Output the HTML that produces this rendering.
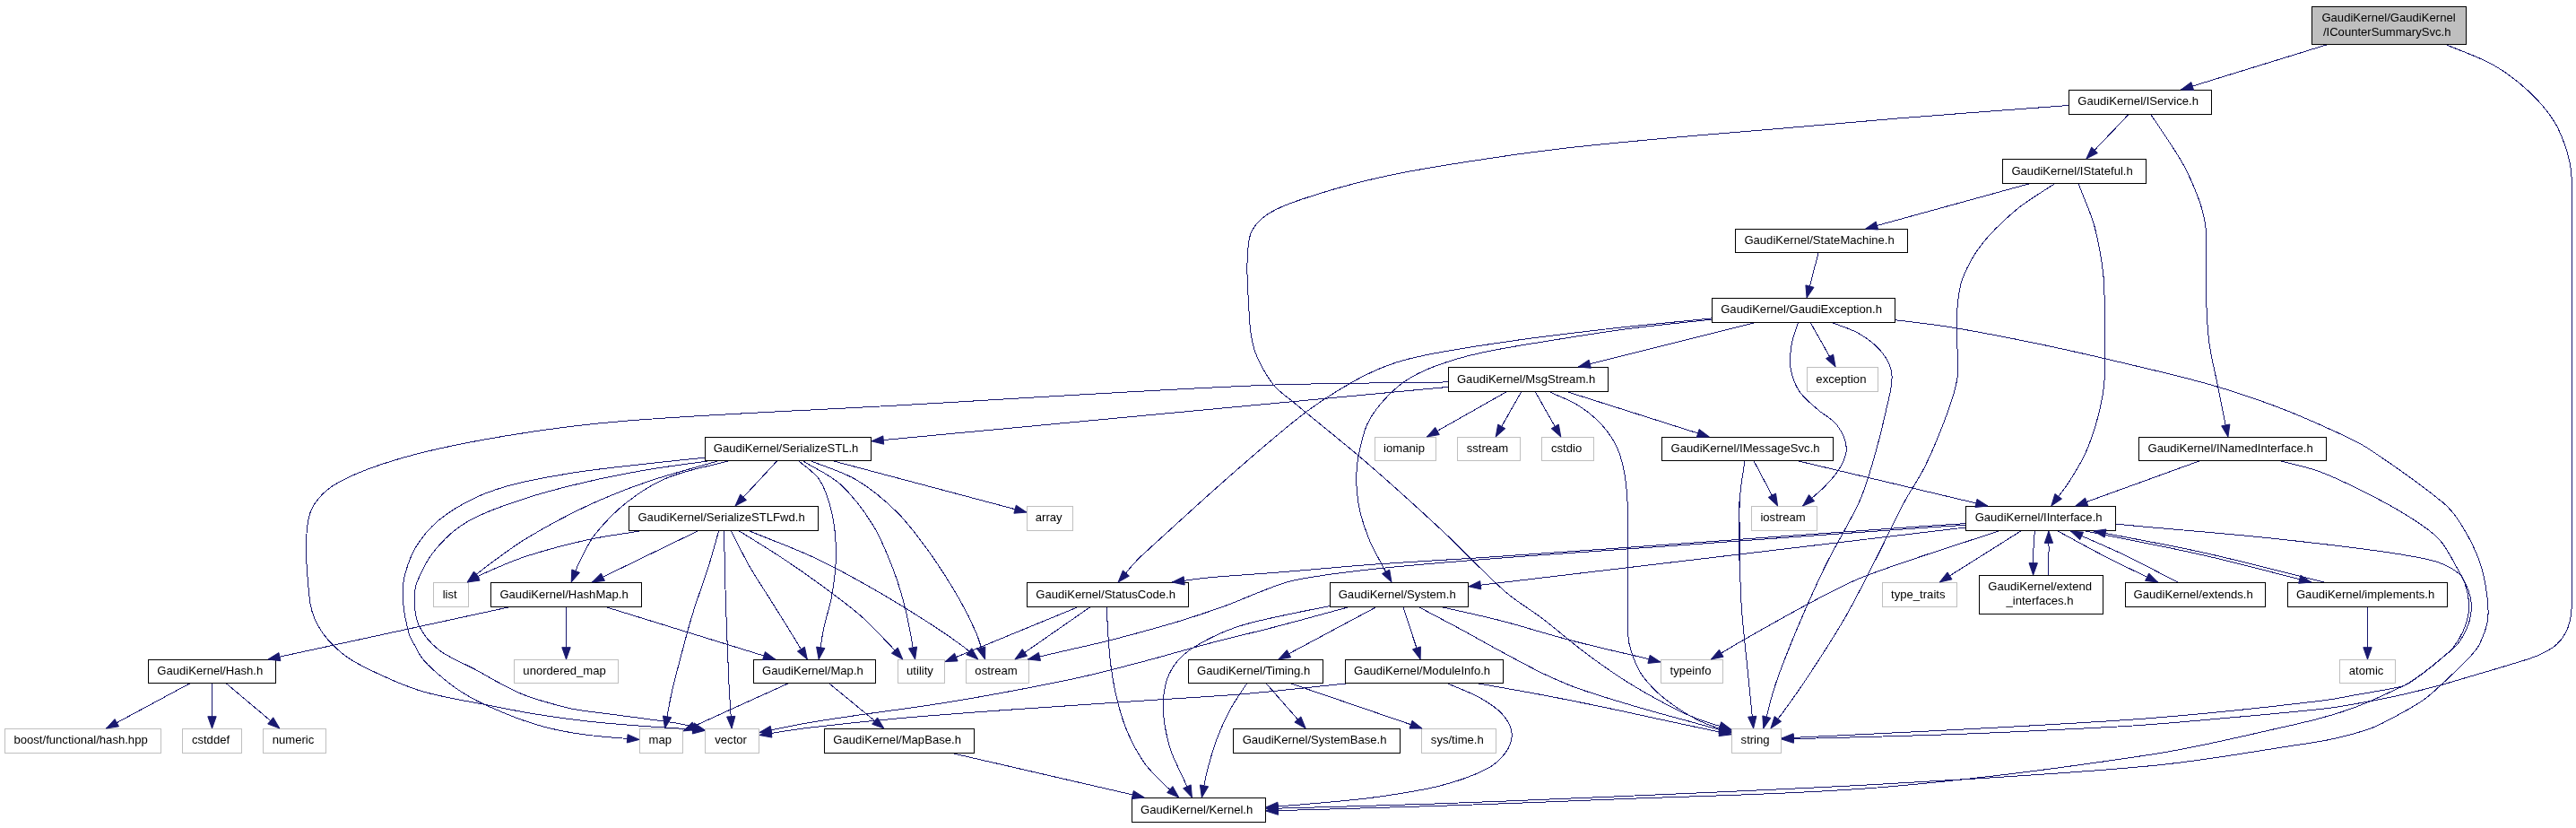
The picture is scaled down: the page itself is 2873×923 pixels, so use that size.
<!DOCTYPE html>
<html><head><meta charset="utf-8"><title>GaudiKernel/GaudiKernel/ICounterSummarySvc.h include graph</title>
<style>
html,body{margin:0;padding:0;background:#fff}
svg{display:block;will-change:transform}
text{font-family:"Liberation Sans",sans-serif;font-size:13.1px;fill:#000}
.e path{fill:none;stroke:#191970;stroke-width:1;shape-rendering:crispEdges}
.e polygon{fill:#191970;stroke:#191970;stroke-width:1}
.n rect{stroke-width:1;shape-rendering:crispEdges}
</style></head><body>
<svg width="2873" height="923" viewBox="0 0 2873 923">
<rect width="2873" height="923" fill="#fff"/>
<g class="n">
<rect x="2578.50" y="7.50" width="172.00" height="42.00" fill="#bfbfbf" stroke="#000"/>
<rect x="2307.50" y="100.50" width="159.00" height="27.00" fill="#fff" stroke="#000"/>
<rect x="2385.50" y="487.50" width="209.00" height="26.00" fill="#fff" stroke="#000"/>
<rect x="2192.50" y="564.50" width="167.00" height="27.00" fill="#fff" stroke="#000"/>
<rect x="1262.50" y="889.50" width="149.00" height="27.00" fill="#fff" stroke="#000"/>
<rect x="1483.50" y="649.50" width="154.00" height="27.00" fill="#fff" stroke="#000"/>
<rect x="1931.50" y="812.50" width="55.00" height="27.00" fill="#fff" stroke="#bfbfbf"/>
<rect x="786.50" y="812.50" width="60.00" height="27.00" fill="#fff" stroke="#bfbfbf"/>
<rect x="1852.50" y="735.50" width="69.00" height="26.00" fill="#fff" stroke="#bfbfbf"/>
<rect x="1325.50" y="735.50" width="150.00" height="26.00" fill="#fff" stroke="#000"/>
<rect x="1375.50" y="812.50" width="186.00" height="27.00" fill="#fff" stroke="#000"/>
<rect x="1585.50" y="812.50" width="83.00" height="27.00" fill="#fff" stroke="#bfbfbf"/>
<rect x="1500.50" y="735.50" width="176.00" height="26.00" fill="#fff" stroke="#000"/>
<rect x="1145.50" y="649.50" width="180.00" height="27.00" fill="#fff" stroke="#000"/>
<rect x="1077.50" y="735.50" width="70.00" height="26.00" fill="#fff" stroke="#bfbfbf"/>
<rect x="1001.50" y="735.50" width="52.00" height="26.00" fill="#fff" stroke="#bfbfbf"/>
<rect x="2099.50" y="649.50" width="83.00" height="27.00" fill="#fff" stroke="#bfbfbf"/>
<rect x="2207.50" y="641.50" width="138.00" height="43.00" fill="#fff" stroke="#000"/>
<rect x="2551.50" y="649.50" width="178.00" height="27.00" fill="#fff" stroke="#000"/>
<rect x="2609.50" y="735.50" width="62.00" height="26.00" fill="#fff" stroke="#bfbfbf"/>
<rect x="2370.50" y="649.50" width="156.00" height="27.00" fill="#fff" stroke="#000"/>
<rect x="2233.50" y="177.50" width="160.00" height="27.00" fill="#fff" stroke="#000"/>
<rect x="1935.50" y="255.50" width="192.00" height="26.00" fill="#fff" stroke="#000"/>
<rect x="1909.50" y="332.50" width="204.00" height="27.00" fill="#fff" stroke="#000"/>
<rect x="1615.50" y="409.50" width="178.00" height="27.00" fill="#fff" stroke="#000"/>
<rect x="1853.50" y="487.50" width="191.00" height="26.00" fill="#fff" stroke="#000"/>
<rect x="1953.50" y="564.50" width="73.00" height="27.00" fill="#fff" stroke="#bfbfbf"/>
<rect x="786.50" y="487.50" width="185.00" height="26.00" fill="#fff" stroke="#000"/>
<rect x="1145.50" y="564.50" width="51.00" height="27.00" fill="#fff" stroke="#bfbfbf"/>
<rect x="483.50" y="649.50" width="39.00" height="27.00" fill="#fff" stroke="#bfbfbf"/>
<rect x="713.50" y="812.50" width="48.00" height="27.00" fill="#fff" stroke="#bfbfbf"/>
<rect x="840.50" y="735.50" width="136.00" height="26.00" fill="#fff" stroke="#000"/>
<rect x="919.50" y="812.50" width="167.00" height="27.00" fill="#fff" stroke="#000"/>
<rect x="547.50" y="649.50" width="168.00" height="27.00" fill="#fff" stroke="#000"/>
<rect x="165.50" y="735.50" width="142.00" height="26.00" fill="#fff" stroke="#000"/>
<rect x="203.50" y="812.50" width="66.00" height="27.00" fill="#fff" stroke="#bfbfbf"/>
<rect x="293.50" y="812.50" width="70.00" height="27.00" fill="#fff" stroke="#bfbfbf"/>
<rect x="5.50" y="812.50" width="174.00" height="27.00" fill="#fff" stroke="#bfbfbf"/>
<rect x="573.50" y="735.50" width="116.00" height="26.00" fill="#fff" stroke="#bfbfbf"/>
<rect x="701.50" y="564.50" width="211.00" height="27.00" fill="#fff" stroke="#000"/>
<rect x="1719.50" y="487.50" width="58.00" height="26.00" fill="#fff" stroke="#bfbfbf"/>
<rect x="1533.50" y="487.50" width="68.00" height="26.00" fill="#fff" stroke="#bfbfbf"/>
<rect x="1625.50" y="487.50" width="70.00" height="26.00" fill="#fff" stroke="#bfbfbf"/>
<rect x="2015.50" y="409.50" width="79.00" height="27.00" fill="#fff" stroke="#bfbfbf"/>
</g>
<g class="e">
<path d="M2594.7,50.0 C2540.6,66.7 2486.5,83.3 2432.4,100.0"/>
<polygon points="2443.8,91.6 2432.4,100.0 2446.6,100.5"/>
<path d="M2728.8,50.0 C2746.2,57.5 2764.7,63.3 2781.0,72.6 2795.3,80.7 2808.8,91.0 2820.8,102.2 2831.5,112.2 2841.4,123.8 2849.1,136.2 2855.6,146.5 2859.8,158.6 2863.3,170.3 2866.2,179.8 2868.0,190.0 2868.2,200.0 2869.6,279.9 2868.2,360.0 2868.2,440.0 2868.2,518.3 2869.5,596.8 2868.2,675.0 2868.1,683.3 2866.9,692.0 2864.0,699.6 2861.4,706.4 2856.9,713.1 2851.7,718.1 2846.0,723.4 2838.4,727.2 2831.1,730.4 2821.2,734.8 2810.4,737.5 2800.0,740.7 2787.7,744.6 2775.3,748.1 2763.0,751.7 2749.4,755.7 2736.0,759.9 2722.4,763.6 2707.8,767.5 2693.1,771.2 2678.4,774.6 2664.4,777.7 2650.3,780.5 2636.1,783.0 2622.1,785.6 2608.0,788.2 2593.8,789.8 2555.8,794.1 2517.6,797.3 2479.5,800.7 2448.5,803.5 2417.4,806.4 2386.3,808.5 2355.3,810.6 2324.2,812.0 2293.2,813.5 2262.1,815.1 2231.1,816.6 2200.0,817.8 2166.7,819.1 2133.3,820.0 2100.0,821.0 2062.3,822.1 2024.7,823.0 1987.0,824.0"/>
<polygon points="2000.2,819.0 1987.0,824.0 2000.4,828.3"/>
<path d="M2399.1,128.0 C2407.2,140.2 2415.6,152.2 2423.5,164.6 2428.8,172.9 2434.3,181.2 2438.5,190.0 2444.6,202.5 2450.2,215.4 2454.5,228.7 2457.5,238.0 2459.7,247.8 2460.3,257.6 2461.8,283.3 2460.0,309.2 2460.7,335.0 2461.2,351.1 2462.0,367.3 2464.1,383.3 2466.3,399.5 2470.6,415.5 2473.8,431.6 2477.5,450.1 2481.2,468.5 2484.9,487.0"/>
<polygon points="2477.7,474.8 2484.9,487.0 2486.9,473.0"/>
<path d="M2307.0,117.5 C2244.7,122.2 2182.3,126.7 2120.0,131.7 2069.3,135.8 2018.6,140.5 1967.8,144.8 1930.0,148.0 1892.1,150.9 1854.3,154.4 1816.4,158.0 1778.5,161.3 1740.7,165.8 1706.5,169.8 1672.5,174.7 1638.5,180.0 1608.1,184.7 1577.7,189.4 1547.6,195.9 1520.9,201.7 1494.2,208.5 1468.1,216.9 1449.1,223.1 1428.7,229.0 1412.5,239.6 1403.7,245.4 1395.1,255.7 1393.3,266.0 1388.7,293.2 1391.9,323.4 1393.3,352.0 1394.0,365.4 1395.3,379.3 1399.6,391.8 1404.2,404.9 1411.7,417.6 1420.0,428.7 1425.2,435.7 1433.2,440.6 1440.0,446.2 1468.0,469.7 1496.9,492.1 1524.5,516.0 1553.2,540.7 1581.3,566.3 1609.1,592.1 1632.9,614.3 1654.9,638.6 1679.3,660.0 1692.1,671.2 1707.2,679.5 1720.7,689.8 1736.2,701.7 1750.9,714.8 1766.6,726.6 1781.5,737.8 1796.7,748.7 1812.5,758.7 1827.3,768.2 1842.8,776.8 1858.4,785.1 1869.6,791.0 1881.0,796.6 1892.8,801.2 1905.2,806.0 1918.3,809.3 1931.0,813.3"/>
<polygon points="1916.9,813.7 1931.0,813.3 1919.7,804.8"/>
<path d="M2373.6,128.0 C2358.0,144.3 2342.5,160.7 2326.9,177.0"/>
<polygon points="2332.7,164.1 2326.9,177.0 2339.4,170.6"/>
<path d="M2452.7,514.0 C2406.7,530.7 2360.7,547.3 2314.7,564.0"/>
<polygon points="2325.6,555.1 2314.7,564.0 2328.8,563.9"/>
<path d="M2543.9,514.0 C2558.4,517.9 2573.3,520.6 2587.3,525.8 2605.4,532.6 2622.8,541.3 2640.0,550.0 2656.1,558.1 2672.2,566.7 2687.4,576.4 2698.9,583.8 2711.1,591.2 2720.3,601.1 2728.9,610.4 2734.4,622.7 2740.8,633.9 2745.3,641.9 2749.9,650.0 2753.1,658.5 2755.1,663.7 2756.4,669.5 2756.4,675.0 2756.4,681.8 2755.4,689.1 2753.1,695.5 2750.2,703.4 2746.1,711.5 2740.8,718.1 2735.3,724.9 2727.5,729.9 2720.7,735.7 2715.2,740.3 2709.5,744.9 2703.8,749.2 2698.3,753.3 2692.7,757.4 2686.8,761.0 2684.2,762.7 2681.4,764.6 2678.4,765.3 2661.7,769.1 2644.6,771.5 2627.7,774.6 2616.4,776.6 2605.2,779.1 2593.8,780.5 2555.8,785.3 2517.6,789.4 2479.5,793.3 2448.5,796.4 2417.4,799.2 2386.3,801.5 2355.3,803.8 2324.2,805.5 2293.2,807.3 2262.1,809.1 2231.1,810.9 2200.0,812.5 2166.7,814.3 2133.3,815.9 2100.0,817.5 2062.3,819.4 2024.7,821.2 1987.0,823.0"/>
<polygon points="2000.1,817.7 1987.0,823.0 2000.5,827.0"/>
<path d="M2360.0,584.2 C2373.3,585.4 2386.7,586.7 2400.0,587.9 2441.1,591.6 2482.2,594.8 2523.2,599.0 2564.3,603.3 2605.4,607.9 2646.4,613.4 2667.0,616.1 2687.6,619.4 2707.9,623.6 2715.0,625.1 2722.1,627.4 2728.5,630.6 2734.4,633.6 2741.1,637.0 2744.9,642.1 2749.0,647.7 2750.9,655.6 2752.3,662.6 2753.6,669.3 2754.0,676.5 2753.1,683.2 2752.2,690.2 2749.8,697.2 2747.0,703.7 2744.3,709.8 2740.9,715.8 2736.7,721.0 2732.1,726.6 2726.2,731.2 2720.7,736.0 2715.2,740.7 2709.5,745.2 2703.8,749.5 2698.3,753.7 2692.7,757.7 2686.8,761.4 2684.2,763.1 2681.3,764.3 2678.4,765.6 2664.3,772.1 2650.4,778.9 2636.1,784.7 2625.1,789.2 2613.7,793.1 2602.3,796.6 2588.3,800.7 2574.2,804.4 2560.0,807.5 2506.8,819.2 2453.8,832.8 2400.0,841.0 2300.5,856.1 2200.3,869.1 2100.0,877.5 2000.3,885.8 1900.0,886.8 1800.0,891.0 1733.3,893.8 1666.7,896.3 1600.0,898.5 1537.3,900.6 1474.7,902.2 1412.0,904.0"/>
<polygon points="1425.2,898.9 1412.0,904.0 1425.5,908.3"/>
<path d="M2192.0,588.0 C2007.3,609.9 1822.7,631.9 1638.0,653.8"/>
<polygon points="1650.7,647.6 1638.0,653.8 1651.8,656.9"/>
<path d="M2228.8,592.0 C2179.2,608.8 2128.9,623.7 2080.0,642.3 2060.0,649.9 2041.1,660.4 2022.1,670.3 1996.1,684.0 1970.6,698.6 1945.1,713.1 1932.7,720.1 1920.6,727.7 1908.3,735.0"/>
<polygon points="1917.4,724.2 1908.3,735.0 1922.1,732.2"/>
<path d="M2192.0,583.6 C2174.7,584.7 2157.3,585.8 2140.0,587.0 2047.6,593.5 1955.1,600.3 1862.7,606.9 1792.3,611.9 1721.8,616.9 1651.4,621.7 1611.7,624.3 1572.1,626.3 1532.4,629.1 1495.8,631.8 1459.3,635.4 1422.7,638.3 1398.3,640.2 1373.9,641.5 1349.5,643.8 1335.4,645.1 1321.5,647.3 1307.4,649.0"/>
<polygon points="1320.1,642.7 1307.4,649.0 1321.2,652.0"/>
<path d="M2192.0,585.3 C2174.7,586.4 2157.3,587.5 2140.0,588.7 2047.6,595.2 1955.1,601.9 1862.7,608.6 1792.3,613.6 1721.8,618.2 1651.4,623.8 1609.0,627.1 1566.7,630.5 1524.5,635.2 1496.6,638.3 1468.4,641.7 1441.0,647.4 1428.4,650.1 1416.5,655.7 1404.4,660.2 1392.1,664.9 1380.2,670.4 1367.8,674.9 1349.7,681.4 1331.4,687.6 1312.9,693.2 1288.7,700.4 1264.3,707.0 1239.8,713.3 1221.6,718.0 1203.2,721.8 1184.9,726.1 1172.1,729.1 1159.3,732.0 1146.5,735.0"/>
<polygon points="1158.4,727.4 1146.5,735.0 1160.5,736.5"/>
<path d="M2253.8,592.0 C2223.6,611.0 2193.4,630.0 2163.2,649.0"/>
<polygon points="2172.0,637.9 2163.2,649.0 2177.0,645.8"/>
<path d="M2269.3,592.0 C2268.8,599.7 2268.1,607.3 2267.8,615.0 2267.5,623.7 2267.7,632.3 2267.6,641.0"/>
<polygon points="2263.0,627.6 2267.6,641.0 2272.4,627.7"/>
<path d="M2326.0,592.0 C2369.3,600.9 2412.9,608.8 2456.0,618.6 2496.8,627.8 2537.1,638.9 2577.7,649.0"/>
<polygon points="2563.6,650.3 2577.7,649.0 2565.9,641.2"/>
<path d="M2295.0,592.0 C2313.3,601.8 2331.5,612.0 2350.0,621.5 2368.7,631.0 2387.7,639.8 2406.6,649.0"/>
<polygon points="2392.6,647.4 2406.6,649.0 2396.7,639.0"/>
<path d="M1483.0,675.6 C1469.0,678.4 1454.9,681.0 1441.0,684.0 1422.6,688.0 1404.0,691.4 1386.1,696.8 1373.6,700.6 1361.2,705.6 1349.5,711.5 1339.3,716.6 1328.7,722.3 1320.2,729.8 1313.5,735.7 1307.6,743.6 1303.8,751.7 1300.1,759.5 1298.5,768.7 1297.6,777.3 1296.7,785.7 1297.1,794.5 1298.3,802.9 1299.8,814.0 1302.1,825.2 1305.6,835.9 1309.4,847.2 1315.3,857.8 1320.2,868.8 1323.3,875.5 1326.3,882.3 1329.4,889.0"/>
<polygon points="1319.6,878.8 1329.4,889.0 1328.2,874.9"/>
<path d="M1583.0,677.0 C1598.3,685.1 1613.6,693.1 1628.9,701.3 1644.2,709.6 1659.4,718.3 1674.8,726.6 1690.0,734.7 1705.1,743.1 1720.7,750.7 1731.9,756.1 1743.4,761.1 1755.1,765.6 1766.4,769.9 1778.0,773.4 1789.5,777.1 1804.8,781.8 1820.1,786.4 1835.4,790.8 1850.7,795.2 1866.0,799.3 1881.3,803.4 1897.9,808.0 1914.4,812.5 1931.0,817.0"/>
<polygon points="1916.9,818.0 1931.0,817.0 1919.4,809.0"/>
<path d="M1503.2,677.0 C1476.3,684.2 1449.6,691.7 1422.7,698.7 1398.4,705.0 1373.8,710.6 1349.5,717.0 1325.0,723.4 1300.8,730.7 1276.3,737.1 1252.0,743.5 1227.7,749.9 1203.2,755.4 1178.9,760.8 1154.4,765.4 1130.0,770.0 1103.4,775.0 1076.7,779.8 1050.0,784.0 1018.4,789.0 986.6,792.9 955.0,797.5 936.6,800.2 918.3,802.8 900.0,806.0 882.3,809.1 864.7,813.0 847.0,816.5"/>
<polygon points="859.2,809.3 847.0,816.5 861.0,818.5"/>
<path d="M1609.3,677.0 C1631.1,682.0 1653.1,686.5 1674.8,692.1 1697.8,698.1 1720.6,705.4 1743.6,711.6 1758.8,715.8 1774.2,719.4 1789.5,723.1 1801.0,725.9 1812.5,728.4 1823.9,731.1 1833.3,733.4 1842.6,735.7 1852.0,738.0"/>
<polygon points="1837.9,739.4 1852.0,738.0 1840.2,730.3"/>
<path d="M1534.3,677.0 C1498.1,696.3 1461.9,715.7 1425.8,735.0"/>
<polygon points="1435.3,724.6 1425.8,735.0 1439.7,732.8"/>
<path d="M1565.1,677.0 C1571.4,696.3 1577.7,715.7 1584.1,735.0"/>
<polygon points="1575.5,723.8 1584.1,735.0 1584.4,720.9"/>
<path d="M1390.5,762.0 C1384.1,772.0 1377.0,781.6 1371.5,792.0 1365.8,802.5 1361.0,813.6 1356.8,824.9 1352.4,836.8 1349.0,849.1 1345.9,861.5 1343.5,870.5 1342.2,879.8 1340.4,889.0"/>
<polygon points="1338.4,875.0 1340.4,889.0 1347.6,876.8"/>
<path d="M1412.3,762.0 C1427.0,778.7 1441.6,795.3 1456.2,812.0"/>
<polygon points="1443.9,805.1 1456.2,812.0 1450.9,798.9"/>
<path d="M1440.0,762.0 C1488.7,778.7 1537.4,795.3 1586.1,812.0"/>
<polygon points="1572.0,812.1 1586.1,812.0 1575.0,803.3"/>
<path d="M1614.8,762.0 C1626.3,767.1 1638.5,771.2 1649.5,777.3 1658.6,782.4 1668.3,788.1 1675.1,795.6 1680.5,801.5 1685.5,810.0 1686.1,817.6 1686.7,824.7 1683.2,833.5 1678.8,839.5 1673.4,846.9 1665.2,853.6 1656.8,857.8 1640.8,865.8 1623.1,871.7 1605.6,876.1 1581.7,882.1 1557.0,885.5 1532.4,888.9 1508.2,892.2 1483.7,894.0 1459.3,896.2 1443.5,897.7 1427.8,898.7 1412.0,899.9"/>
<polygon points="1424.9,894.2 1412.0,899.9 1425.7,903.5"/>
<path d="M1649.5,762.0 C1673.2,766.3 1697.0,770.3 1720.7,774.8 1743.7,779.1 1766.6,783.8 1789.5,788.5 1812.5,793.3 1835.4,798.5 1858.4,803.4 1882.6,808.6 1906.8,813.7 1931.0,818.8"/>
<polygon points="1917.0,820.6 1931.0,818.8 1918.9,811.5"/>
<path d="M1501.3,762.0 C1462.9,765.9 1424.6,770.4 1386.1,773.7 1349.6,776.7 1312.9,778.5 1276.3,781.0 1227.6,784.3 1178.8,787.3 1130.0,790.9 1086.6,794.0 1043.3,797.1 1000.0,801.0 966.6,804.0 933.3,807.5 900.0,811.5 882.3,813.6 864.7,816.8 847.0,819.5"/>
<polygon points="859.5,812.9 847.0,819.5 860.9,822.1"/>
<path d="M1234.3,677.0 C1234.9,688.5 1235.2,700.0 1236.1,711.5 1237.0,723.7 1237.9,735.9 1239.8,748.1 1241.6,760.3 1243.9,772.6 1247.1,784.6 1250.0,795.8 1253.4,807.0 1258.1,817.6 1263.1,829.0 1269.1,840.3 1276.3,850.5 1282.5,859.2 1290.7,866.6 1298.3,874.3 1303.5,879.5 1309.3,884.1 1314.8,889.0"/>
<polygon points="1301.7,883.6 1314.8,889.0 1307.9,876.6"/>
<path d="M1215.4,677.0 C1187.5,696.3 1159.7,715.7 1131.9,735.0"/>
<polygon points="1140.2,723.6 1131.9,735.0 1145.5,731.2"/>
<path d="M1201.4,677.0 C1152.3,697.2 1103.1,717.4 1054.0,737.6"/>
<polygon points="1064.6,728.2 1054.0,737.6 1068.1,736.9"/>
<path d="M2284.5,641.0 C2284.7,632.3 2284.9,623.7 2285.0,615.0 2285.1,607.3 2284.9,599.7 2284.9,592.0"/>
<polygon points="2289.6,605.3 2284.9,592.0 2280.3,605.4"/>
<path d="M2592.2,649.0 C2546.8,637.9 2501.6,625.8 2456.0,615.7 2415.9,606.8 2375.3,599.9 2335.0,592.0"/>
<polygon points="2349.0,590.0 2335.0,592.0 2347.2,599.1"/>
<path d="M2640.5,677.0 C2640.5,696.3 2640.5,715.7 2640.5,735.0"/>
<polygon points="2635.8,721.7 2640.5,735.0 2645.2,721.7"/>
<path d="M2428.6,649.0 C2409.1,639.0 2389.8,628.5 2370.0,619.0 2350.1,609.5 2329.6,601.0 2309.4,592.0"/>
<polygon points="2323.5,593.2 2309.4,592.0 2319.7,601.7"/>
<path d="M2318.2,205.0 C2324.2,220.9 2331.6,236.5 2336.1,252.8 2340.8,270.1 2343.7,288.1 2345.8,306.0 2347.4,320.3 2347.0,335.0 2347.2,349.5 2347.5,373.6 2348.6,397.9 2347.2,421.9 2346.5,434.9 2344.1,448.0 2340.9,460.6 2337.2,475.3 2332.5,490.1 2326.4,504.1 2321.2,515.9 2314.1,527.0 2307.1,537.9 2301.2,547.0 2294.2,555.3 2287.8,564.0"/>
<polygon points="2291.9,550.5 2287.8,564.0 2299.5,556.1"/>
<path d="M2291.2,205.0 C2277.1,214.5 2262.1,222.7 2249.1,233.5 2235.2,245.1 2221.6,257.9 2210.5,272.1 2201.4,283.7 2193.9,297.2 2188.7,310.8 2184.7,321.3 2183.8,333.3 2182.9,344.6 2181.9,357.4 2182.9,370.4 2182.9,383.3 2182.9,396.2 2184.7,409.3 2182.9,421.9 2181.0,435.1 2176.4,448.0 2171.8,460.6 2164.6,480.2 2156.7,499.8 2147.6,518.6 2140.7,532.9 2131.2,545.9 2123.7,560.0 2112.7,580.7 2102.9,602.1 2092.2,623.1 2080.8,645.4 2069.7,667.9 2057.2,689.6 2044.0,712.3 2029.5,734.2 2015.1,756.2 2007.3,768.1 1999.0,779.6 1990.6,791.2 1985.5,798.2 1980.1,805.1 1974.9,812.0"/>
<polygon points="1979.2,798.6 1974.9,812.0 1986.6,804.2"/>
<path d="M2262.6,205.0 C2201.9,221.7 2141.3,238.3 2080.6,255.0"/>
<polygon points="2092.2,247.0 2080.6,255.0 2094.7,256.0"/>
<path d="M2028.0,282.0 C2023.7,298.7 2019.4,315.3 2015.1,332.0"/>
<polygon points="2013.9,317.9 2015.1,332.0 2023.0,320.3"/>
<path d="M2114.0,356.7 C2134.9,359.4 2155.9,361.4 2176.6,364.9 2209.0,370.3 2241.2,376.6 2273.3,383.3 2305.6,390.0 2337.8,397.4 2369.9,405.0 2402.2,412.7 2434.6,420.1 2466.5,429.2 2491.0,436.2 2515.2,444.4 2539.0,453.3 2560.3,461.3 2581.2,470.5 2601.8,479.9 2614.8,485.8 2628.1,491.5 2640.0,499.2 2668.9,518.2 2697.6,538.2 2724.4,560.0 2732.6,566.7 2739.3,575.6 2744.9,584.6 2753.0,597.5 2760.2,611.4 2765.4,625.7 2769.8,637.4 2771.9,650.2 2773.6,662.6 2774.9,672.1 2775.8,682.1 2774.5,691.4 2773.1,700.5 2769.4,709.7 2765.4,718.1 2763.3,722.7 2759.6,726.7 2756.2,730.6 2750.4,737.1 2743.9,743.1 2737.6,749.2 2732.6,754.1 2727.6,758.9 2722.4,763.6 2716.3,769.1 2710.4,774.9 2703.8,779.6 2695.8,785.3 2687.1,790.2 2678.4,794.9 2667.3,800.9 2656.3,807.3 2644.6,811.8 2630.9,816.9 2616.5,820.3 2602.3,823.6 2590.0,826.4 2577.5,828.2 2565.1,830.0 2510.1,838.2 2455.3,848.4 2400.0,853.6 2300.3,863.0 2200.1,868.3 2100.0,874.0 2000.1,879.7 1900.0,883.6 1800.0,888.0 1733.3,890.9 1666.7,893.7 1600.0,896.0 1537.3,898.2 1474.7,899.7 1412.0,901.5"/>
<polygon points="1425.2,896.4 1412.0,901.5 1425.5,905.8"/>
<path d="M1909.0,356.2 C1879.5,359.4 1849.9,362.1 1820.4,365.9 1792.2,369.6 1764.0,374.0 1735.9,378.6 1707.7,383.2 1679.3,387.3 1651.4,393.4 1634.2,397.2 1617.1,402.0 1600.6,408.2 1588.9,412.6 1577.1,418.1 1566.8,425.1 1557.4,431.5 1548.9,439.8 1541.4,448.4 1534.8,456.0 1528.6,464.5 1524.5,473.7 1519.9,484.3 1517.5,496.1 1515.2,507.5 1513.6,515.8 1512.6,524.4 1512.7,532.9 1512.9,544.2 1513.8,555.7 1516.1,566.7 1518.5,578.2 1522.4,589.6 1526.7,600.5 1530.1,609.3 1535.0,617.5 1539.3,625.9 1543.4,633.7 1547.8,641.3 1552.0,649.0"/>
<polygon points="1541.5,639.6 1552.0,649.0 1549.7,635.1"/>
<path d="M2044.5,360.0 C2054.3,364.1 2065.0,366.8 2074.1,372.3 2083.4,377.9 2092.9,384.9 2099.4,393.4 2104.9,400.4 2109.4,410.0 2110.0,418.8 2110.8,431.1 2106.3,444.3 2103.7,456.8 2100.0,473.8 2095.8,490.8 2091.0,507.5 2086.0,524.6 2081.3,542.0 2074.1,558.3 2063.0,582.9 2048.1,605.8 2036.2,630.1 2024.9,653.0 2014.6,676.5 2004.6,700.1 1995.9,720.9 1987.3,741.8 1980.1,763.2 1974.7,779.1 1971.2,795.7 1966.8,812.0"/>
<polygon points="1965.8,797.9 1966.8,812.0 1974.8,800.4"/>
<path d="M1909.0,354.9 C1871.8,358.7 1834.6,362.0 1797.5,366.2 1759.6,370.6 1721.6,374.8 1683.9,380.4 1645.9,386.1 1607.4,391.0 1570.3,400.3 1550.7,405.2 1531.4,413.3 1513.6,423.0 1488.8,436.6 1464.5,452.2 1442.6,470.2 1384.2,517.9 1328.3,569.1 1272.7,620.0 1263.2,628.7 1255.6,639.3 1247.1,649.0"/>
<polygon points="1252.4,635.9 1247.1,649.0 1259.4,642.1"/>
<path d="M1955.7,360.0 C1890.6,376.3 1825.4,392.7 1760.3,409.0"/>
<polygon points="1772.1,401.2 1760.3,409.0 1774.4,410.3"/>
<path d="M2005.2,360.0 C2002.8,368.3 1999.3,376.5 1998.0,385.0 1996.7,393.2 1995.8,402.1 1997.1,410.3 1998.6,419.0 2001.6,428.3 2006.4,435.7 2011.8,443.8 2020.2,450.2 2027.6,456.8 2034.3,462.8 2043.5,466.7 2048.7,473.7 2054.0,480.8 2058.5,490.5 2059.3,499.1 2059.9,506.0 2056.4,513.9 2052.9,520.2 2048.7,528.0 2042.3,534.9 2036.0,541.4 2028.2,549.5 2019.1,556.5 2010.7,564.0"/>
<polygon points="2017.5,551.6 2010.7,564.0 2023.7,558.6"/>
<path d="M2019.4,360.0 C2028.6,376.3 2037.9,392.7 2047.1,409.0"/>
<polygon points="2036.5,399.7 2047.1,409.0 2044.6,395.1"/>
<path d="M1728.7,437.0 C1739.6,442.2 1751.2,446.2 1761.3,452.6 1770.5,458.4 1779.3,465.7 1786.6,473.7 1793.4,481.2 1799.3,490.0 1803.5,499.1 1807.8,508.3 1810.2,518.6 1812.0,528.7 1814.2,541.2 1814.9,554.0 1815.4,566.7 1816.0,584.4 1815.5,602.2 1815.5,620.0 1815.5,633.3 1815.5,646.7 1815.5,660.0 1815.4,675.3 1814.6,690.7 1815.5,705.9 1815.9,712.9 1817.1,720.0 1819.4,726.6 1822.3,735.3 1825.8,744.1 1830.8,751.8 1835.8,759.4 1842.5,766.2 1849.2,772.5 1855.5,778.4 1862.7,783.6 1869.8,788.5 1877.2,793.6 1884.8,798.3 1892.8,802.3 1900.1,806.0 1908.0,808.9 1915.7,811.5 1920.7,813.1 1925.9,813.9 1931.0,815.2"/>
<polygon points="1916.9,816.6 1931.0,815.2 1919.1,807.5"/>
<path d="M1615.0,425.9 C1543.3,427.2 1471.6,426.8 1400.0,429.8 1266.6,435.5 1133.3,444.5 1000.0,452.0 900.0,457.6 799.8,461.3 700.0,469.0 655.1,472.5 610.2,478.3 565.8,485.6 526.7,492.1 487.5,499.3 449.6,510.2 422.7,517.9 394.4,527.0 371.4,541.5 359.4,549.1 347.6,562.7 344.6,576.3 338.7,602.9 342.2,633.9 344.6,662.1 345.6,674.4 348.9,687.4 354.9,697.9 361.6,709.7 371.9,720.6 382.6,729.2 393.6,738.0 407.1,744.2 420.0,750.2 436.7,758.1 453.9,765.7 471.6,770.9 493.2,777.2 515.8,780.5 538.0,784.9 557.6,788.8 577.3,792.8 597.0,796.0 616.6,799.2 636.3,801.9 656.0,804.1 675.6,806.3 695.3,807.7 715.0,809.2 729.8,810.4 744.5,811.1 759.3,812.2 768.2,812.8 777.1,813.7 786.0,814.4"/>
<polygon points="772.3,818.0 786.0,814.4 773.1,808.7"/>
<path d="M1748.7,437.0 C1801.2,453.7 1853.8,470.3 1906.4,487.0"/>
<polygon points="1892.3,487.4 1906.4,487.0 1895.1,478.5"/>
<path d="M1615.0,431.4 C1400.7,451.5 1186.3,471.6 972.0,491.8"/>
<polygon points="984.8,485.9 972.0,491.8 985.7,495.2"/>
<path d="M1712.4,437.0 C1721.9,453.7 1731.4,470.3 1740.8,487.0"/>
<polygon points="1730.2,477.7 1740.8,487.0 1738.3,473.1"/>
<path d="M1679.8,437.0 C1650.3,453.7 1620.8,470.3 1591.4,487.0"/>
<polygon points="1600.7,476.4 1591.4,487.0 1605.3,484.5"/>
<path d="M1696.6,437.0 C1687.1,453.7 1677.6,470.3 1668.2,487.0"/>
<polygon points="1670.7,473.1 1668.2,487.0 1678.8,477.7"/>
<path d="M2006.0,514.0 C2076.3,530.7 2146.6,547.3 2216.9,564.0"/>
<polygon points="2202.9,565.5 2216.9,564.0 2205.0,556.4"/>
<path d="M1946.0,514.0 C1944.3,525.9 1942.0,537.8 1940.9,549.8 1939.9,561.0 1939.8,572.3 1939.6,583.6 1939.5,597.7 1940.0,629.0 1940.1,625.9 1940.1,621.1 1939.6,555.0 1939.8,560.0 1940.1,568.0 1939.9,630.1 1941.6,665.1 1942.8,690.8 1946.1,716.5 1948.6,742.1 1950.8,765.4 1953.3,788.7 1955.6,812.0"/>
<polygon points="1949.6,799.2 1955.6,812.0 1958.9,798.3"/>
<path d="M1956.1,514.0 C1965.0,530.7 1973.8,547.3 1982.6,564.0"/>
<polygon points="1972.2,554.4 1982.6,564.0 1980.5,550.0"/>
<path d="M789.2,514.0 C766.8,517.2 744.4,519.8 722.1,523.6 699.7,527.5 677.3,531.8 655.1,537.0 632.6,542.3 610.0,547.6 588.1,554.9 565.3,562.5 541.7,570.0 521.1,581.7 507.5,589.4 495.3,601.0 485.3,613.0 476.7,623.3 470.2,636.2 465.2,648.7 462.5,655.6 461.8,663.7 462.1,671.1 462.5,680.0 463.4,690.0 467.5,697.9 472.6,707.9 480.7,717.7 489.8,724.7 501.8,733.9 517.1,739.2 530.6,746.6 538.1,750.6 545.3,755.1 552.8,759.1 562.5,764.2 572.1,769.7 582.3,773.8 591.8,777.8 601.8,780.6 611.8,783.4 621.5,786.2 631.3,789.0 641.3,790.8 655.9,793.4 670.8,794.7 685.5,796.7 700.3,798.7 715.0,800.5 729.8,802.6 739.6,804.0 749.5,805.1 759.3,807.0 768.3,808.8 777.1,811.5 786.0,813.7"/>
<polygon points="771.9,815.0 786.0,813.7 774.2,805.9"/>
<path d="M904.9,514.0 C921.7,521.0 939.9,525.8 955.4,535.1 972.0,545.1 987.5,558.0 1001.3,571.8 1015.0,585.6 1026.6,601.8 1038.0,617.7 1049.6,633.9 1060.1,650.9 1070.1,668.2 1077.0,680.0 1083.1,692.3 1088.5,704.9 1092.6,714.6 1095.2,725.0 1098.6,735.0"/>
<polygon points="1089.9,723.8 1098.6,735.0 1098.8,720.9"/>
<path d="M895.7,514.0 C909.5,522.6 925.2,528.9 937.0,539.7 951.3,552.7 963.5,569.0 973.7,585.6 983.4,601.2 990.1,618.8 996.7,636.0 1002.4,650.9 1006.7,666.4 1010.5,681.9 1014.7,699.4 1017.2,717.3 1020.6,735.0"/>
<polygon points="1013.5,722.8 1020.6,735.0 1022.6,721.0"/>
<path d="M929.9,514.0 C1001.6,533.0 1073.3,552.1 1145.0,571.1"/>
<polygon points="1130.9,572.2 1145.0,571.1 1133.3,563.2"/>
<path d="M800.3,514.0 C774.3,521.7 747.8,528.2 722.1,537.0 699.4,544.8 676.9,553.7 655.1,563.8 632.2,574.5 609.8,586.6 588.1,599.6 572.5,608.9 558.0,620.1 543.4,630.9 535.7,636.5 528.5,643.0 521.1,649.0"/>
<polygon points="528.5,637.0 521.1,649.0 534.4,644.2"/>
<path d="M786.0,510.2 C764.7,512.4 743.4,514.4 722.1,516.9 692.3,520.4 662.3,523.0 632.8,528.1 605.7,532.7 578.2,537.3 552.4,546.0 533.5,552.2 515.0,561.6 498.7,572.8 486.7,581.0 475.8,592.2 467.5,604.0 460.1,614.5 455.1,627.4 451.8,639.8 449.2,649.7 448.9,660.7 449.6,671.1 450.4,683.1 453.1,695.2 456.3,706.8 457.5,711.5 460.4,715.7 462.8,720.0 465.5,725.0 468.1,730.3 471.6,734.8 475.9,740.1 481.2,744.9 486.4,749.5 493.5,755.7 500.8,761.8 508.5,767.2 515.5,772.1 523.1,776.4 530.6,780.5 537.8,784.3 545.3,787.6 552.8,790.8 562.5,795.0 572.3,799.1 582.3,802.6 591.9,806.0 601.8,809.0 611.8,811.5 621.5,813.9 631.4,815.8 641.3,817.4 651.0,818.9 660.9,820.1 670.8,821.0 684.8,822.4 698.9,823.3 713.0,824.4"/>
<polygon points="699.3,828.0 713.0,824.4 700.1,818.7"/>
<path d="M891.1,514.0 C898.8,521.0 908.7,526.5 914.1,535.1 920.9,545.8 925.0,559.1 927.8,571.8 931.2,586.7 932.4,602.4 932.4,617.7 932.4,633.0 930.4,648.5 927.8,663.6 925.8,676.0 921.2,688.0 918.7,700.3 916.3,711.8 915.0,723.4 913.2,735.0"/>
<polygon points="910.6,721.1 913.2,735.0 919.9,722.6"/>
<path d="M811.5,514.0 C789.2,520.2 765.8,523.9 744.5,532.6 728.5,539.0 713.4,548.8 699.8,559.4 686.6,569.6 674.5,582.1 664.1,595.1 656.6,604.4 651.5,615.7 646.2,626.4 642.6,633.6 640.2,641.5 637.2,649.0"/>
<polygon points="637.8,634.9 637.2,649.0 646.5,638.3"/>
<path d="M866.5,514.0 C851.0,530.7 835.5,547.3 820.0,564.0"/>
<polygon points="825.7,551.1 820.0,564.0 832.5,557.4"/>
<path d="M878.7,762.0 C839.8,779.6 800.9,797.3 762.0,814.9"/>
<polygon points="772.2,805.1 762.0,814.9 776.1,813.6"/>
<path d="M925.0,762.0 C945.3,778.7 965.6,795.3 985.9,812.0"/>
<polygon points="972.7,807.2 985.9,812.0 978.6,799.9"/>
<path d="M1063.7,840.0 C1134.6,856.3 1205.4,872.7 1276.3,889.0"/>
<polygon points="1262.2,890.6 1276.3,889.0 1264.3,881.5"/>
<path d="M676.9,677.0 C739.5,696.3 802.1,715.7 864.8,735.0"/>
<polygon points="850.6,735.5 864.8,735.0 853.4,726.6"/>
<path d="M566.8,677.0 C477.5,696.3 388.2,715.7 298.9,735.0"/>
<polygon points="310.9,727.6 298.9,735.0 312.9,736.7"/>
<path d="M631.5,677.0 C631.5,696.3 631.5,715.7 631.5,735.0"/>
<polygon points="626.8,721.7 631.5,735.0 636.2,721.7"/>
<path d="M236.5,762.0 C236.5,778.7 236.5,795.3 236.5,812.0"/>
<polygon points="231.8,798.7 236.5,812.0 241.2,798.7"/>
<path d="M252.5,762.0 C272.3,778.7 292.1,795.3 311.9,812.0"/>
<polygon points="298.7,807.0 311.9,812.0 304.7,799.8"/>
<path d="M211.4,762.0 C180.4,778.7 149.5,795.3 118.5,812.0"/>
<polygon points="128.0,801.6 118.5,812.0 132.5,809.8"/>
<path d="M807.6,592.0 C807.9,608.2 808.1,624.4 808.5,640.6 809.1,663.6 810.0,686.5 810.8,709.5 811.5,727.8 812.2,746.2 813.1,764.6 813.9,780.4 815.1,796.2 816.1,812.0"/>
<polygon points="810.6,799.0 816.1,812.0 819.9,798.4"/>
<path d="M836.0,592.0 C860.5,602.1 885.6,611.0 909.5,622.3 933.0,633.3 955.8,646.1 978.3,659.0 998.6,670.6 1018.4,683.1 1038.0,695.7 1050.5,703.7 1062.8,712.1 1074.7,721.0 1080.4,725.2 1085.4,730.3 1090.8,735.0"/>
<polygon points="1077.7,729.7 1090.8,735.0 1083.8,722.7"/>
<path d="M824.6,592.0 C840.6,602.1 857.0,611.8 872.8,622.3 888.3,632.6 903.6,643.3 918.7,654.4 932.7,664.8 946.9,675.1 960.0,686.5 971.3,696.5 981.6,707.8 992.1,718.7 997.2,723.9 1001.9,729.6 1006.8,735.0"/>
<polygon points="994.4,728.2 1006.8,735.0 1001.3,722.0"/>
<path d="M713.2,592.0 C693.8,595.3 674.3,597.6 655.1,601.8 632.6,606.8 610.1,612.7 588.1,619.7 572.8,624.6 558.1,631.1 543.4,637.6 535.8,640.9 528.5,645.2 521.1,649.0"/>
<polygon points="530.8,638.8 521.1,649.0 535.1,647.1"/>
<path d="M801.6,592.0 C797.8,605.2 794.3,618.4 790.2,631.5 784.3,649.9 777.4,668.0 771.8,686.5 766.7,703.2 762.5,720.2 758.0,737.0 754.8,749.2 751.5,761.4 748.8,773.7 746.1,786.4 744.0,799.2 741.6,812.0"/>
<polygon points="739.5,798.0 741.6,812.0 748.7,799.8"/>
<path d="M815.4,592.0 C822.3,605.2 828.7,618.6 836.0,631.5 843.2,644.0 851.3,655.9 859.0,668.2 866.6,680.4 874.4,692.6 881.9,704.9 888.1,714.9 894.2,725.0 900.3,735.0"/>
<polygon points="889.4,726.1 900.3,735.0 897.4,721.2"/>
<path d="M778.1,592.0 C738.9,611.0 699.6,630.0 660.4,649.0"/>
<polygon points="670.4,639.0 660.4,649.0 674.4,647.4"/>
</g>
<g class="t">
<text x="2589.4" y="23.5">GaudiKernel/GaudiKernel</text>
<text x="2662.2" y="39.5" text-anchor="middle">/ICounterSummarySvc.h</text>
<text x="2384.6" y="117.2" text-anchor="middle">GaudiKernel/IService.h</text>
<text x="2487.6" y="503.9" text-anchor="middle">GaudiKernel/INamedInterface.h</text>
<text x="2273.6" y="581.2" text-anchor="middle">GaudiKernel/IInterface.h</text>
<text x="1334.7" y="906.6" text-anchor="middle">GaudiKernel/Kernel.h</text>
<text x="1558.2" y="666.6" text-anchor="middle">GaudiKernel/System.h</text>
<text x="1957.6" y="829.2" text-anchor="middle">string</text>
<text x="815.1" y="829.2" text-anchor="middle">vector</text>
<text x="1885.5" y="751.9" text-anchor="middle">typeinfo</text>
<text x="1398.2" y="751.9" text-anchor="middle">GaudiKernel/Timing.h</text>
<text x="1466.1" y="829.2" text-anchor="middle">GaudiKernel/SystemBase.h</text>
<text x="1625.3" y="829.2" text-anchor="middle">sys/time.h</text>
<text x="1586.1" y="751.9" text-anchor="middle">GaudiKernel/ModuleInfo.h</text>
<text x="1233.1" y="666.6" text-anchor="middle">GaudiKernel/StatusCode.h</text>
<text x="1111.0" y="751.9" text-anchor="middle">ostream</text>
<text x="1026.0" y="751.9" text-anchor="middle">utility</text>
<text x="2139.3" y="666.6" text-anchor="middle">type_traits</text>
<text x="2217.3" y="658.2">GaudiKernel/extend</text>
<text x="2275.0" y="674.2" text-anchor="middle">_interfaces.h</text>
<text x="2638.1" y="666.6" text-anchor="middle">GaudiKernel/implements.h</text>
<text x="2639.1" y="751.9" text-anchor="middle">atomic</text>
<text x="2446.1" y="666.6" text-anchor="middle">GaudiKernel/extends.h</text>
<text x="2311.1" y="194.6" text-anchor="middle">GaudiKernel/IStateful.h</text>
<text x="2029.1" y="271.9" text-anchor="middle">GaudiKernel/StateMachine.h</text>
<text x="2009.1" y="349.2" text-anchor="middle">GaudiKernel/GaudiException.h</text>
<text x="1702.1" y="426.6" text-anchor="middle">GaudiKernel/MsgStream.h</text>
<text x="1946.6" y="503.9" text-anchor="middle">GaudiKernel/IMessageSvc.h</text>
<text x="1988.5" y="581.2" text-anchor="middle">iostream</text>
<text x="876.6" y="503.9" text-anchor="middle">GaudiKernel/SerializeSTL.h</text>
<text x="1169.7" y="581.2" text-anchor="middle">array</text>
<text x="501.7" y="666.6" text-anchor="middle">list</text>
<text x="736.3" y="829.2" text-anchor="middle">map</text>
<text x="906.4" y="751.9" text-anchor="middle">GaudiKernel/Map.h</text>
<text x="1000.6" y="829.2" text-anchor="middle">GaudiKernel/MapBase.h</text>
<text x="629.1" y="666.6" text-anchor="middle">GaudiKernel/HashMap.h</text>
<text x="234.3" y="751.9" text-anchor="middle">GaudiKernel/Hash.h</text>
<text x="235.0" y="829.2" text-anchor="middle">cstddef</text>
<text x="327.0" y="829.2" text-anchor="middle">numeric</text>
<text x="90.1" y="829.2" text-anchor="middle">boost/functional/hash.hpp</text>
<text x="629.6" y="751.9" text-anchor="middle">unordered_map</text>
<text x="804.6" y="581.2" text-anchor="middle">GaudiKernel/SerializeSTLFwd.h</text>
<text x="1747.1" y="503.9" text-anchor="middle">cstdio</text>
<text x="1566.0" y="503.9" text-anchor="middle">iomanip</text>
<text x="1659.0" y="503.9" text-anchor="middle">sstream</text>
<text x="2053.4" y="426.6" text-anchor="middle">exception</text>
</g>
</svg>
</body></html>
